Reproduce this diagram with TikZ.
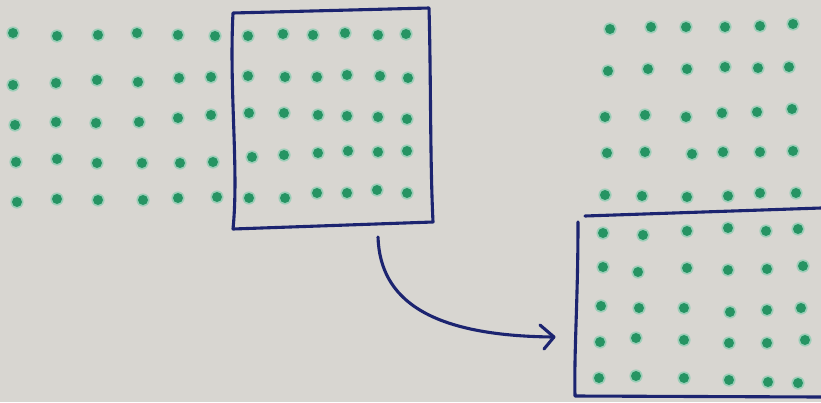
\documentclass[tikz,border=0pt]{standalone}
\usetikzlibrary{calc}

\definecolor{paper}{HTML}{D8D6D1}
\definecolor{ink}{HTML}{1C2470}
\definecolor{dotgreen}{HTML}{269463}
\definecolor{dothalo}{HTML}{6CC9A4}

\tikzset{
  pen/.style={draw=ink, line width=3.1pt, line cap=round, line join=round},
  halo/.style={fill=dothalo, opacity=0.55},
  core/.style={fill=dotgreen},
}

% one marker dot at the given point
\newcommand{\mdot}[1]{%
  \fill[halo] (#1) circle (6.6);
  \fill[core] (#1) circle (5.0);
}

\begin{document}
\begin{tikzpicture}[x=1pt, y=-1pt]
  % paper sheet
  \fill[paper] (0,0) rectangle (821,402);
  \useasboundingbox (0,0) rectangle (821,402);

  % ---- long strip of dots, left part (outside the selection) ----
  \foreach \px/\py in {
    13/33, 57/36, 98/35, 137/33, 178/35, 215/36,
    13/85, 56/83, 97/80, 138/82, 179/78, 211/77,
    15/125, 56/122, 96/123, 139/122, 178/118, 211/115,
    16/162, 57/159, 97/163, 142/163, 180/163, 213/162,
    17/202, 57/199, 98/200, 143/200, 178/198, 217/197}
  { \mdot{\px,\py} }

  % ---- dots inside the selection ----
  \foreach \px/\py in {
    248/36, 283/34, 313/35, 345/33, 378/35, 406/34,
    248/76, 285/77, 317/77, 347/75, 380/76, 408/78,
    249/113, 284/113, 318/115, 347/116, 378/117, 407/119,
    252/157, 284/155, 318/153, 348/151, 378/152, 407/151,
    249/198, 285/198, 317/193, 347/193, 377/190, 407/193}
  { \mdot{\px,\py} }

  % ---- right column, upper block ----
  \foreach \px/\py in {
    610/29, 651/27, 686/27, 725/27, 760/26, 793/24,
    608/71, 648/69, 687/69, 725/67, 758/68, 789/67,
    605/117, 645/115, 686/117, 722/113, 757/112, 792/109,
    607/153, 645/152, 692/154, 723/152, 760/152, 793/151,
    605/195, 642/196, 687/197, 728/196, 760/193, 796/193}
  { \mdot{\px,\py} }

  % ---- right column, lower block (the moved selection) ----
  \foreach \px/\py in {
    603/233, 643/235, 687/231, 728/228, 766/231, 798/229,
    603/267, 638/272, 687/268, 728/270, 767/269, 803/266,
    601/306, 639/308, 684/308, 730/312, 767/310, 801/308,
    600/342, 636/338, 684/340, 729/343, 767/343, 805/340,
    599/378, 636/376, 684/378, 729/380, 768/382, 798/383}
  { \mdot{\px,\py} }

  % ---- hand-drawn selection frame ----
  \coordinate (s1) at (233,13);
  \coordinate (s2) at (429,8);
  \coordinate (s3) at (433,222);
  \coordinate (s4) at (233,229);
  \draw[pen] (s1) -- (s2) .. controls (431,80) and (430,160) .. (s3)
             -- (s4) .. controls (239,170) and (229,90) .. cycle;

  % ---- frame around the moved block ----
  \coordinate (t1) at (585,216);
  \coordinate (t2) at (821,208);
  \coordinate (t3) at (578,222);
  \coordinate (t4) at (575,396);
  \coordinate (t5) at (821,397);
  \draw[pen] (t1) -- (t2);
  \draw[pen] (t3) .. controls (578,300) and (574,350) .. (t4) -- (t5);

  % ---- move arrow ----
  \coordinate (a0) at (378,237);
  \coordinate (a1) at (554,337);
  \coordinate (h1) at (540,325);
  \coordinate (h2) at (544,349);
  \draw[pen] (a0) .. controls (380,300) and (430,336) .. (a1);
  \draw[pen] (h1) -- (a1) -- (h2);
\end{tikzpicture}
\end{document}
